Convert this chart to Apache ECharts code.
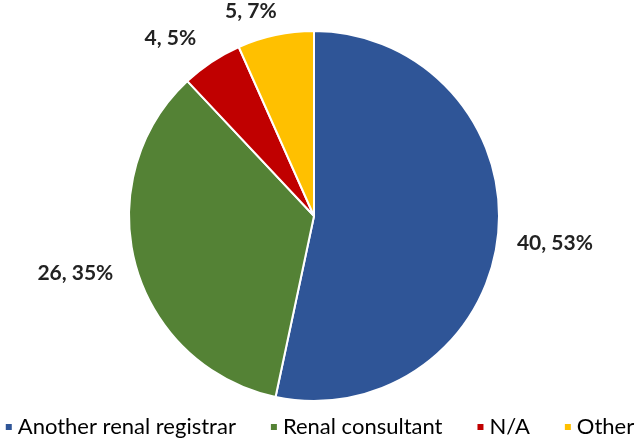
<!DOCTYPE html>
<html><head><meta charset="utf-8">
<script src="https://cdn.jsdelivr.net/npm/echarts@6/dist/echarts.min.js"></script>
<style>html,body{margin:0;padding:0;background:#fff}#c{width:638px;height:441px}</style>
</head><body><div id="c"></div>
<script>
const categories = ["Another renal registrar", "Renal consultant", "N/A", "Other"];
const values = [40, 26, 4, 5];
const percents = ["53%", "35%", "5%", "7%"];
const colors = ["#2F5597", "#548235", "#C00000", "#FFC000"];
const labelOffsets = [[-4, 6], [0, 4], [-5, -12], [13, -12]];

const chart = echarts.init(document.getElementById('c'));
chart.setOption({
  animation: false,
  color: colors,
  legend: {
    top: 416,
    left: 'center',
    padding: 0,
    icon: 'rect',
    itemWidth: 8,
    itemHeight: 8,
    itemGap: 33,
    textStyle: { fontFamily: 'Lato', fontSize: 22, color: '#000' },
    data: categories
  },
  series: [{
    type: 'pie',
    center: [314, 216],
    radius: [0, 185],
    startAngle: 90,
    clockwise: true,
    itemStyle: { borderColor: '#fff', borderWidth: 2 },
    label: {
      show: true,
      position: 'outside',
      fontFamily: 'Lato',
      fontWeight: 'bold',
      fontSize: 21,
      color: '#222',
      formatter: p => p.value + ', ' + percents[p.dataIndex]
    },
    labelLine: { show: false, length: 14, length2: 4 },
    data: categories.map((c, i) => ({ name: c, value: values[i], label: { offset: labelOffsets[i] } }))
  }]
});
</script></body></html>
